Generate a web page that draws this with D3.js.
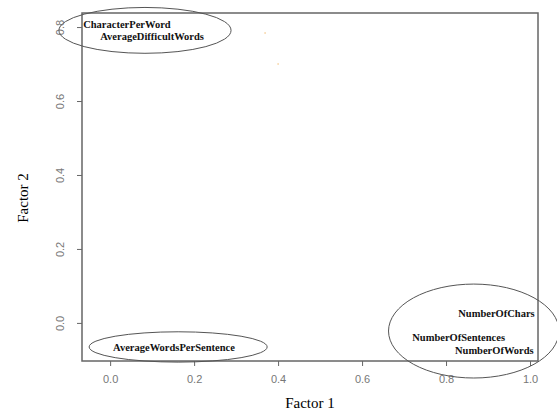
<!DOCTYPE html>
<html>
<head>
<meta charset="utf-8">
<script src="https://cdn.jsdelivr.net/npm/d3@7"></script>
<style>
  body { margin: 0; background: #fff; }
  .tick text { fill: #777; font-family: "Liberation Sans", Arial, sans-serif; font-size: 11px; }
  .tick line { stroke: #666; }
  .domain { display: none; }
</style>
</head>
<body>
<div class="canvas"></div>
<script>
const width = 557;
const height = 418;

// Factor loadings (Factor 1, Factor 2)
const variables = ["CharacterPerWord", "AverageDifficultWords", "AverageWordsPerSentence",
  "NumberOfChars", "NumberOfSentences", "NumberOfWords"];
const factor1 = [0.04, 0.10, 0.152, 0.92, 0.83, 0.915];
const factor2 = [0.807, 0.775, -0.065, 0.027, -0.038, -0.073];

const xTicks = [0.0, 0.2, 0.4, 0.6, 0.8, 1.0];
const yTicks = [0.0, 0.2, 0.4, 0.6, 0.8];

// Grouping ellipses (centre x, centre y, radius x, radius y) in factor units
const groupCx = [0.083, 0.162, 0.866];
const groupCy = [0.791, -0.065, -0.022];
const groupRx = [0.205, 0.212, 0.203];
const groupRy = [0.062, 0.041, 0.127];

// stray specks
const speckX = [0.369, 0.4];
const speckY = [0.784, 0.7];

const xScale = d3.scaleLinear().domain([-0.067, 1.019]).range([82, 538]);
const yScale = d3.scaleLinear().domain([-0.103, 0.838]).range([361, 13]);

const svg = d3.select(".canvas").append("svg")
  .attr("width", width)
  .attr("height", height);

// Axes
const xAxis = d3.axisBottom(xScale).tickValues(xTicks).tickFormat(d3.format(".1f")).tickSizeOuter(0).tickSize(5).tickPadding(9);
const yAxis = d3.axisLeft(yScale).tickValues(yTicks).tickFormat(d3.format(".1f")).tickSizeOuter(0).tickSize(5).tickPadding(8);

svg.append("g")
  .attr("class", "axis x")
  .attr("transform", `translate(0,${yScale.range()[0]})`)
  .call(xAxis);

svg.append("g")
  .attr("class", "axis y")
  .attr("transform", `translate(${xScale.range()[0]},0)`)
  .call(yAxis)
  .selectAll(".tick text")
  .attr("transform", "rotate(-90)")
  .attr("text-anchor", "middle")
  .attr("x", 0)
  .attr("dy", 0)
  .attr("y", -18);

// Plot frame
svg.append("rect")
  .attr("x", xScale.range()[0])
  .attr("y", yScale.range()[1])
  .attr("width", xScale.range()[1] - xScale.range()[0])
  .attr("height", yScale.range()[0] - yScale.range()[1])
  .attr("fill", "none")
  .attr("stroke", "#666")
  .attr("stroke-width", 1.5);

// Ellipses
svg.selectAll("ellipse")
  .data(groupCx)
  .enter()
  .append("ellipse")
  .attr("cx", d => xScale(d))
  .attr("cy", (d, i) => yScale(groupCy[i]))
  .attr("rx", (d, i) => xScale(groupRx[i]) - xScale(0))
  .attr("ry", (d, i) => yScale(0) - yScale(groupRy[i]))
  .attr("fill", "none")
  .attr("stroke", "#555")
  .attr("stroke-width", 1);

// Specks
svg.selectAll("circle.speck")
  .data(speckX)
  .enter()
  .append("circle")
  .attr("class", "speck")
  .attr("cx", d => xScale(d))
  .attr("cy", (d, i) => yScale(speckY[i]))
  .attr("r", 0.8)
  .attr("fill", "#f3c07a");

// Variable labels
svg.selectAll("text.var")
  .data(variables)
  .enter()
  .append("text")
  .attr("class", "var")
  .attr("x", (d, i) => xScale(factor1[i]))
  .attr("y", (d, i) => yScale(factor2[i]))
  .attr("dy", "0.35em")
  .attr("text-anchor", "middle")
  .attr("font-family", "'Liberation Serif', 'Times New Roman', serif")
  .attr("font-weight", "bold")
  .attr("font-size", "10.5px")
  .attr("fill", "#111")
  .text(d => d);

// Axis titles
svg.append("text")
  .attr("x", 310)
  .attr("y", 408)
  .attr("text-anchor", "middle")
  .attr("font-family", "'Liberation Serif', 'Times New Roman', serif")
  .attr("font-size", "15px")
  .text("Factor 1");

svg.append("text")
  .attr("transform", "translate(28,198) rotate(-90)")
  .attr("text-anchor", "middle")
  .attr("font-family", "'Liberation Serif', 'Times New Roman', serif")
  .attr("font-size", "15px")
  .text("Factor 2");
</script>
</body>
</html>
